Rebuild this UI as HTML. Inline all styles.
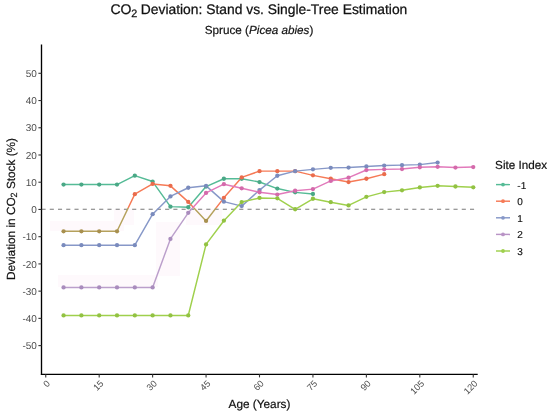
<!DOCTYPE html>
<html><head><meta charset="utf-8"><style>
html,body{margin:0;padding:0;background:#fff;}
body{width:550px;height:414px;overflow:hidden;}
svg{display:block;will-change:transform;text-rendering:geometricPrecision;font-family:"Liberation Sans",sans-serif;}
.ax{font-size:10px;fill:#4d4d4d;}
.lg{font-size:10px;fill:#111;stroke:#111;stroke-width:0.15px;}
.title{font-size:14px;fill:#111;stroke:#111;stroke-width:0.25px;}
.sub{font-size:11.7px;fill:#111;stroke:#111;stroke-width:0.2px;}
.axt{font-size:11.8px;fill:#111;stroke:#111;stroke-width:0.2px;}
</style></head><body>
<svg width="550" height="414" viewBox="0 0 550 414">
<rect width="550" height="414" fill="#fff"/>
<defs><clipPath id="ca"><rect x="0" y="0" width="550" height="208.0"/></clipPath><clipPath id="cb"><rect x="0" y="208.0" width="550" height="300"/></clipPath></defs>
<rect x="58" y="275" width="100" height="12" fill="#fef9fc"/>
<rect x="186" y="209" width="36" height="16" fill="#fef9fc"/>
<rect x="156" y="222" width="24" height="54" fill="#fef9fc"/>
<rect x="114" y="209" width="20" height="16" fill="#fef9fc"/>
<rect x="50" y="221" width="74" height="10" fill="#fef9fc"/>
<line x1="41.5" y1="209.25" x2="477.7" y2="209.25" stroke="#7a7a7a" stroke-width="1.05" stroke-dasharray="4.12,4.12"/>
<polyline points="63.56,184.56 81.38,184.56 99.19,184.56 117.00,184.56 134.81,175.65 152.62,181.56 170.44,206.64 188.25,207.24 206.06,186.55 223.88,178.76 241.69,178.76 259.50,182.03 277.31,188.56 295.12,192.37 312.94,194.01" fill="none" stroke="#55bb96" stroke-width="1.45" stroke-linejoin="round"/>
<g clip-path="url(#ca)"><polyline points="63.56,231.31 81.38,231.31 99.19,231.31 117.00,231.31 134.81,194.14 152.62,183.93 170.44,185.84 188.25,201.90 206.06,220.96 223.88,197.82 241.69,177.40 259.50,171.13 277.31,171.13 295.12,171.13 312.94,175.35 330.75,178.76 348.56,182.03 366.38,178.76 384.19,174.13" fill="none" stroke="#f67a56" stroke-width="1.45" stroke-linejoin="round"/></g>
<g clip-path="url(#cb)"><polyline points="63.56,231.31 81.38,231.31 99.19,231.31 117.00,231.31 134.81,194.14 152.62,183.93 170.44,185.84 188.25,201.90 206.06,220.96 223.88,197.82 241.69,177.40 259.50,171.13 277.31,171.13 295.12,171.13 312.94,175.35 330.75,178.76 348.56,182.03 366.38,178.76 384.19,174.13" fill="none" stroke="#b5a15c" stroke-width="1.45" stroke-linejoin="round"/></g>
<polyline points="63.56,245.20 81.38,245.20 99.19,245.20 117.00,245.20 134.81,245.20 152.62,214.16 170.44,196.46 188.25,187.74 206.06,185.84 223.88,201.63 241.69,206.12 259.50,190.06 277.31,175.76 295.12,171.13 312.94,169.36 330.75,167.87 348.56,167.59 366.38,166.50 384.19,165.55 402.00,165.14 419.81,164.60 437.62,162.56" fill="none" stroke="#8798c8" stroke-width="1.45" stroke-linejoin="round"/>
<g clip-path="url(#ca)"><polyline points="63.56,287.41 81.38,287.41 99.19,287.41 117.00,287.41 134.81,287.41 152.62,287.41 170.44,238.94 188.25,212.80 206.06,192.92 223.88,184.20 241.69,188.29 259.50,192.24 277.31,194.55 295.12,190.74 312.94,189.11 330.75,180.94 348.56,177.67 366.38,170.04 384.19,169.36 402.00,169.09 419.81,167.32 437.62,166.78 455.44,167.59 473.25,167.05" fill="none" stroke="#e27abb" stroke-width="1.45" stroke-linejoin="round"/></g>
<g clip-path="url(#cb)"><polyline points="63.56,287.41 81.38,287.41 99.19,287.41 117.00,287.41 134.81,287.41 152.62,287.41 170.44,238.94 188.25,212.80 206.06,192.92 223.88,184.20 241.69,188.29 259.50,192.24 277.31,194.55 295.12,190.74 312.94,189.11 330.75,180.94 348.56,177.67 366.38,170.04 384.19,169.36 402.00,169.09 419.81,167.32 437.62,166.78 455.44,167.59 473.25,167.05" fill="none" stroke="#bb9fcb" stroke-width="1.45" stroke-linejoin="round"/></g>
<polyline points="63.56,315.45 81.38,315.45 99.19,315.45 117.00,315.45 134.81,315.45 152.62,315.45 170.44,315.45 188.25,315.45 206.06,244.38 223.88,220.69 241.69,202.04 259.50,197.95 277.31,198.36 295.12,209.26 312.94,198.77 330.75,202.18 348.56,205.44 366.38,196.87 384.19,192.10 402.00,190.33 419.81,187.47 437.62,185.84 455.44,186.52 473.25,187.34" fill="none" stroke="#9fd04c" stroke-width="1.45" stroke-linejoin="round"/>
<circle cx="63.56" cy="184.56" r="2.15" fill="#4aa886"/><circle cx="81.38" cy="184.56" r="2.15" fill="#4aa886"/><circle cx="99.19" cy="184.56" r="2.15" fill="#4aa886"/><circle cx="117.00" cy="184.56" r="2.15" fill="#4aa886"/><circle cx="134.81" cy="175.65" r="2.15" fill="#4aa886"/><circle cx="152.62" cy="181.56" r="2.15" fill="#4aa886"/><circle cx="170.44" cy="206.64" r="2.15" fill="#4aa886"/><circle cx="188.25" cy="207.24" r="2.15" fill="#4aa886"/><circle cx="206.06" cy="186.55" r="2.15" fill="#4aa886"/><circle cx="223.88" cy="178.76" r="2.15" fill="#4aa886"/><circle cx="241.69" cy="178.76" r="2.15" fill="#4aa886"/><circle cx="259.50" cy="182.03" r="2.15" fill="#4aa886"/><circle cx="277.31" cy="188.56" r="2.15" fill="#4aa886"/><circle cx="295.12" cy="192.37" r="2.15" fill="#4aa886"/><circle cx="312.94" cy="194.01" r="2.15" fill="#4aa886"/>
<g clip-path="url(#ca)"><circle cx="63.56" cy="231.31" r="2.15" fill="#ea6c4c"/><circle cx="81.38" cy="231.31" r="2.15" fill="#ea6c4c"/><circle cx="99.19" cy="231.31" r="2.15" fill="#ea6c4c"/><circle cx="117.00" cy="231.31" r="2.15" fill="#ea6c4c"/><circle cx="134.81" cy="194.14" r="2.15" fill="#ea6c4c"/><circle cx="152.62" cy="183.93" r="2.15" fill="#ea6c4c"/><circle cx="170.44" cy="185.84" r="2.15" fill="#ea6c4c"/><circle cx="188.25" cy="201.90" r="2.15" fill="#ea6c4c"/><circle cx="206.06" cy="220.96" r="2.15" fill="#ea6c4c"/><circle cx="223.88" cy="197.82" r="2.15" fill="#ea6c4c"/><circle cx="241.69" cy="177.40" r="2.15" fill="#ea6c4c"/><circle cx="259.50" cy="171.13" r="2.15" fill="#ea6c4c"/><circle cx="277.31" cy="171.13" r="2.15" fill="#ea6c4c"/><circle cx="295.12" cy="171.13" r="2.15" fill="#ea6c4c"/><circle cx="312.94" cy="175.35" r="2.15" fill="#ea6c4c"/><circle cx="330.75" cy="178.76" r="2.15" fill="#ea6c4c"/><circle cx="348.56" cy="182.03" r="2.15" fill="#ea6c4c"/><circle cx="366.38" cy="178.76" r="2.15" fill="#ea6c4c"/><circle cx="384.19" cy="174.13" r="2.15" fill="#ea6c4c"/></g>
<g clip-path="url(#cb)"><circle cx="63.56" cy="231.31" r="2.15" fill="#a8904f"/><circle cx="81.38" cy="231.31" r="2.15" fill="#a8904f"/><circle cx="99.19" cy="231.31" r="2.15" fill="#a8904f"/><circle cx="117.00" cy="231.31" r="2.15" fill="#a8904f"/><circle cx="134.81" cy="194.14" r="2.15" fill="#a8904f"/><circle cx="152.62" cy="183.93" r="2.15" fill="#a8904f"/><circle cx="170.44" cy="185.84" r="2.15" fill="#a8904f"/><circle cx="188.25" cy="201.90" r="2.15" fill="#a8904f"/><circle cx="206.06" cy="220.96" r="2.15" fill="#a8904f"/><circle cx="223.88" cy="197.82" r="2.15" fill="#a8904f"/><circle cx="241.69" cy="177.40" r="2.15" fill="#a8904f"/><circle cx="259.50" cy="171.13" r="2.15" fill="#a8904f"/><circle cx="277.31" cy="171.13" r="2.15" fill="#a8904f"/><circle cx="295.12" cy="171.13" r="2.15" fill="#a8904f"/><circle cx="312.94" cy="175.35" r="2.15" fill="#a8904f"/><circle cx="330.75" cy="178.76" r="2.15" fill="#a8904f"/><circle cx="348.56" cy="182.03" r="2.15" fill="#a8904f"/><circle cx="366.38" cy="178.76" r="2.15" fill="#a8904f"/><circle cx="384.19" cy="174.13" r="2.15" fill="#a8904f"/></g>
<circle cx="63.56" cy="245.20" r="2.15" fill="#7a8bbd"/><circle cx="81.38" cy="245.20" r="2.15" fill="#7a8bbd"/><circle cx="99.19" cy="245.20" r="2.15" fill="#7a8bbd"/><circle cx="117.00" cy="245.20" r="2.15" fill="#7a8bbd"/><circle cx="134.81" cy="245.20" r="2.15" fill="#7a8bbd"/><circle cx="152.62" cy="214.16" r="2.15" fill="#7a8bbd"/><circle cx="170.44" cy="196.46" r="2.15" fill="#7a8bbd"/><circle cx="188.25" cy="187.74" r="2.15" fill="#7a8bbd"/><circle cx="206.06" cy="185.84" r="2.15" fill="#7a8bbd"/><circle cx="223.88" cy="201.63" r="2.15" fill="#7a8bbd"/><circle cx="241.69" cy="206.12" r="2.15" fill="#7a8bbd"/><circle cx="259.50" cy="190.06" r="2.15" fill="#7a8bbd"/><circle cx="277.31" cy="175.76" r="2.15" fill="#7a8bbd"/><circle cx="295.12" cy="171.13" r="2.15" fill="#7a8bbd"/><circle cx="312.94" cy="169.36" r="2.15" fill="#7a8bbd"/><circle cx="330.75" cy="167.87" r="2.15" fill="#7a8bbd"/><circle cx="348.56" cy="167.59" r="2.15" fill="#7a8bbd"/><circle cx="366.38" cy="166.50" r="2.15" fill="#7a8bbd"/><circle cx="384.19" cy="165.55" r="2.15" fill="#7a8bbd"/><circle cx="402.00" cy="165.14" r="2.15" fill="#7a8bbd"/><circle cx="419.81" cy="164.60" r="2.15" fill="#7a8bbd"/><circle cx="437.62" cy="162.56" r="2.15" fill="#7a8bbd"/>
<g clip-path="url(#ca)"><circle cx="63.56" cy="287.41" r="2.15" fill="#d46aab"/><circle cx="81.38" cy="287.41" r="2.15" fill="#d46aab"/><circle cx="99.19" cy="287.41" r="2.15" fill="#d46aab"/><circle cx="117.00" cy="287.41" r="2.15" fill="#d46aab"/><circle cx="134.81" cy="287.41" r="2.15" fill="#d46aab"/><circle cx="152.62" cy="287.41" r="2.15" fill="#d46aab"/><circle cx="170.44" cy="238.94" r="2.15" fill="#d46aab"/><circle cx="188.25" cy="212.80" r="2.15" fill="#d46aab"/><circle cx="206.06" cy="192.92" r="2.15" fill="#d46aab"/><circle cx="223.88" cy="184.20" r="2.15" fill="#d46aab"/><circle cx="241.69" cy="188.29" r="2.15" fill="#d46aab"/><circle cx="259.50" cy="192.24" r="2.15" fill="#d46aab"/><circle cx="277.31" cy="194.55" r="2.15" fill="#d46aab"/><circle cx="295.12" cy="190.74" r="2.15" fill="#d46aab"/><circle cx="312.94" cy="189.11" r="2.15" fill="#d46aab"/><circle cx="330.75" cy="180.94" r="2.15" fill="#d46aab"/><circle cx="348.56" cy="177.67" r="2.15" fill="#d46aab"/><circle cx="366.38" cy="170.04" r="2.15" fill="#d46aab"/><circle cx="384.19" cy="169.36" r="2.15" fill="#d46aab"/><circle cx="402.00" cy="169.09" r="2.15" fill="#d46aab"/><circle cx="419.81" cy="167.32" r="2.15" fill="#d46aab"/><circle cx="437.62" cy="166.78" r="2.15" fill="#d46aab"/><circle cx="455.44" cy="167.59" r="2.15" fill="#d46aab"/><circle cx="473.25" cy="167.05" r="2.15" fill="#d46aab"/></g>
<g clip-path="url(#cb)"><circle cx="63.56" cy="287.41" r="2.15" fill="#a98cbd"/><circle cx="81.38" cy="287.41" r="2.15" fill="#a98cbd"/><circle cx="99.19" cy="287.41" r="2.15" fill="#a98cbd"/><circle cx="117.00" cy="287.41" r="2.15" fill="#a98cbd"/><circle cx="134.81" cy="287.41" r="2.15" fill="#a98cbd"/><circle cx="152.62" cy="287.41" r="2.15" fill="#a98cbd"/><circle cx="170.44" cy="238.94" r="2.15" fill="#a98cbd"/><circle cx="188.25" cy="212.80" r="2.15" fill="#a98cbd"/><circle cx="206.06" cy="192.92" r="2.15" fill="#a98cbd"/><circle cx="223.88" cy="184.20" r="2.15" fill="#a98cbd"/><circle cx="241.69" cy="188.29" r="2.15" fill="#a98cbd"/><circle cx="259.50" cy="192.24" r="2.15" fill="#a98cbd"/><circle cx="277.31" cy="194.55" r="2.15" fill="#a98cbd"/><circle cx="295.12" cy="190.74" r="2.15" fill="#a98cbd"/><circle cx="312.94" cy="189.11" r="2.15" fill="#a98cbd"/><circle cx="330.75" cy="180.94" r="2.15" fill="#a98cbd"/><circle cx="348.56" cy="177.67" r="2.15" fill="#a98cbd"/><circle cx="366.38" cy="170.04" r="2.15" fill="#a98cbd"/><circle cx="384.19" cy="169.36" r="2.15" fill="#a98cbd"/><circle cx="402.00" cy="169.09" r="2.15" fill="#a98cbd"/><circle cx="419.81" cy="167.32" r="2.15" fill="#a98cbd"/><circle cx="437.62" cy="166.78" r="2.15" fill="#a98cbd"/><circle cx="455.44" cy="167.59" r="2.15" fill="#a98cbd"/><circle cx="473.25" cy="167.05" r="2.15" fill="#a98cbd"/></g>
<circle cx="63.56" cy="315.45" r="2.15" fill="#92c242"/><circle cx="81.38" cy="315.45" r="2.15" fill="#92c242"/><circle cx="99.19" cy="315.45" r="2.15" fill="#92c242"/><circle cx="117.00" cy="315.45" r="2.15" fill="#92c242"/><circle cx="134.81" cy="315.45" r="2.15" fill="#92c242"/><circle cx="152.62" cy="315.45" r="2.15" fill="#92c242"/><circle cx="170.44" cy="315.45" r="2.15" fill="#92c242"/><circle cx="188.25" cy="315.45" r="2.15" fill="#92c242"/><circle cx="206.06" cy="244.38" r="2.15" fill="#92c242"/><circle cx="223.88" cy="220.69" r="2.15" fill="#92c242"/><circle cx="241.69" cy="202.04" r="2.15" fill="#92c242"/><circle cx="259.50" cy="197.95" r="2.15" fill="#92c242"/><circle cx="277.31" cy="198.36" r="2.15" fill="#92c242"/><circle cx="295.12" cy="209.26" r="2.15" fill="#92c242"/><circle cx="312.94" cy="198.77" r="2.15" fill="#92c242"/><circle cx="330.75" cy="202.18" r="2.15" fill="#92c242"/><circle cx="348.56" cy="205.44" r="2.15" fill="#92c242"/><circle cx="366.38" cy="196.87" r="2.15" fill="#92c242"/><circle cx="384.19" cy="192.10" r="2.15" fill="#92c242"/><circle cx="402.00" cy="190.33" r="2.15" fill="#92c242"/><circle cx="419.81" cy="187.47" r="2.15" fill="#92c242"/><circle cx="437.62" cy="185.84" r="2.15" fill="#92c242"/><circle cx="455.44" cy="186.52" r="2.15" fill="#92c242"/><circle cx="473.25" cy="187.34" r="2.15" fill="#92c242"/>
<line x1="41.5" y1="44.6" x2="41.5" y2="374.90000000000003" stroke="#000" stroke-width="1.35"/>
<line x1="40.9" y1="374.3" x2="477.7" y2="374.3" stroke="#000" stroke-width="1.35"/>
<line x1="38.40" y1="345.60" x2="41.5" y2="345.60" stroke="#333" stroke-width="1.1"/>
<text x="36.9" y="349.20" text-anchor="end" class="ax">-50</text>
<line x1="38.40" y1="318.37" x2="41.5" y2="318.37" stroke="#333" stroke-width="1.1"/>
<text x="36.9" y="321.97" text-anchor="end" class="ax">-40</text>
<line x1="38.40" y1="291.14" x2="41.5" y2="291.14" stroke="#333" stroke-width="1.1"/>
<text x="36.9" y="294.74" text-anchor="end" class="ax">-30</text>
<line x1="38.40" y1="263.91" x2="41.5" y2="263.91" stroke="#333" stroke-width="1.1"/>
<text x="36.9" y="267.51" text-anchor="end" class="ax">-20</text>
<line x1="38.40" y1="236.68" x2="41.5" y2="236.68" stroke="#333" stroke-width="1.1"/>
<text x="36.9" y="240.28" text-anchor="end" class="ax">-10</text>
<line x1="38.40" y1="209.45" x2="41.5" y2="209.45" stroke="#333" stroke-width="1.1"/>
<text x="36.9" y="213.05" text-anchor="end" class="ax">0</text>
<line x1="38.40" y1="182.22" x2="41.5" y2="182.22" stroke="#333" stroke-width="1.1"/>
<text x="36.9" y="185.82" text-anchor="end" class="ax">10</text>
<line x1="38.40" y1="154.99" x2="41.5" y2="154.99" stroke="#333" stroke-width="1.1"/>
<text x="36.9" y="158.59" text-anchor="end" class="ax">20</text>
<line x1="38.40" y1="127.76" x2="41.5" y2="127.76" stroke="#333" stroke-width="1.1"/>
<text x="36.9" y="131.36" text-anchor="end" class="ax">30</text>
<line x1="38.40" y1="100.53" x2="41.5" y2="100.53" stroke="#333" stroke-width="1.1"/>
<text x="36.9" y="104.13" text-anchor="end" class="ax">40</text>
<line x1="38.40" y1="73.30" x2="41.5" y2="73.30" stroke="#333" stroke-width="1.1"/>
<text x="36.9" y="76.90" text-anchor="end" class="ax">50</text>
<line x1="45.75" y1="374.3" x2="45.75" y2="377.40" stroke="#333" stroke-width="1.1"/>
<text transform="translate(45.85,379.15) rotate(-45)" text-anchor="end" dy="0.75em" class="ax" style="font-size:9.2px">0</text>
<line x1="99.19" y1="374.3" x2="99.19" y2="377.40" stroke="#333" stroke-width="1.1"/>
<text transform="translate(99.29,379.15) rotate(-45)" text-anchor="end" dy="0.75em" class="ax" style="font-size:9.2px">15</text>
<line x1="152.62" y1="374.3" x2="152.62" y2="377.40" stroke="#333" stroke-width="1.1"/>
<text transform="translate(152.72,379.15) rotate(-45)" text-anchor="end" dy="0.75em" class="ax" style="font-size:9.2px">30</text>
<line x1="206.06" y1="374.3" x2="206.06" y2="377.40" stroke="#333" stroke-width="1.1"/>
<text transform="translate(206.16,379.15) rotate(-45)" text-anchor="end" dy="0.75em" class="ax" style="font-size:9.2px">45</text>
<line x1="259.50" y1="374.3" x2="259.50" y2="377.40" stroke="#333" stroke-width="1.1"/>
<text transform="translate(259.60,379.15) rotate(-45)" text-anchor="end" dy="0.75em" class="ax" style="font-size:9.2px">60</text>
<line x1="312.94" y1="374.3" x2="312.94" y2="377.40" stroke="#333" stroke-width="1.1"/>
<text transform="translate(313.04,379.15) rotate(-45)" text-anchor="end" dy="0.75em" class="ax" style="font-size:9.2px">75</text>
<line x1="366.38" y1="374.3" x2="366.38" y2="377.40" stroke="#333" stroke-width="1.1"/>
<text transform="translate(366.48,379.15) rotate(-45)" text-anchor="end" dy="0.75em" class="ax" style="font-size:9.2px">90</text>
<line x1="419.81" y1="374.3" x2="419.81" y2="377.40" stroke="#333" stroke-width="1.1"/>
<text transform="translate(419.91,379.15) rotate(-45)" text-anchor="end" dy="0.75em" class="ax" style="font-size:9.2px">105</text>
<line x1="473.25" y1="374.3" x2="473.25" y2="377.40" stroke="#333" stroke-width="1.1"/>
<text transform="translate(473.35,379.15) rotate(-45)" text-anchor="end" dy="0.75em" class="ax" style="font-size:9.2px">120</text>
<text x="110.5" y="14" class="title">CO</text>
<text x="131.3" y="17" class="title" style="font-size:10.8px">2</text>
<text x="140.8" y="14" class="title" style="font-size:13.85px">Deviation: Stand vs. Single-Tree Estimation</text>
<text x="259.1" y="34" text-anchor="middle" class="sub">Spruce (<tspan font-style="italic">Picea abies</tspan>)</text>
<text x="259.5" y="408" text-anchor="middle" class="axt">Age (Years)</text>
<text transform="translate(15.3,209) rotate(-90)" text-anchor="middle" class="axt">Deviation in CO<tspan dy="2.0" font-size="9">2</tspan><tspan dy="-2.0"> Stock (%)</tspan></text>
<text x="495.1" y="169" class="axt" style="font-size:11.7px">Site Index</text>
<line x1="496" y1="184.60" x2="510" y2="184.60" stroke="#55bb96" stroke-width="1.45"/>
<circle cx="503" cy="184.60" r="1.9" fill="#55bb96"/>
<text x="517.3" y="188.50" class="lg">-1</text>
<line x1="496" y1="201.20" x2="510" y2="201.20" stroke="#f67a56" stroke-width="1.45"/>
<circle cx="503" cy="201.20" r="1.9" fill="#f67a56"/>
<text x="517.3" y="205.10" class="lg">0</text>
<line x1="496" y1="217.80" x2="510" y2="217.80" stroke="#8798c8" stroke-width="1.45"/>
<circle cx="503" cy="217.80" r="1.9" fill="#8798c8"/>
<text x="517.3" y="221.70" class="lg">1</text>
<line x1="496" y1="234.40" x2="510" y2="234.40" stroke="#b994c6" stroke-width="1.45"/>
<circle cx="503" cy="234.40" r="1.9" fill="#b994c6"/>
<text x="517.3" y="238.30" class="lg">2</text>
<line x1="496" y1="251.00" x2="510" y2="251.00" stroke="#9fd04c" stroke-width="1.45"/>
<circle cx="503" cy="251.00" r="1.9" fill="#9fd04c"/>
<text x="517.3" y="254.90" class="lg">3</text>
</svg>
</body></html>
